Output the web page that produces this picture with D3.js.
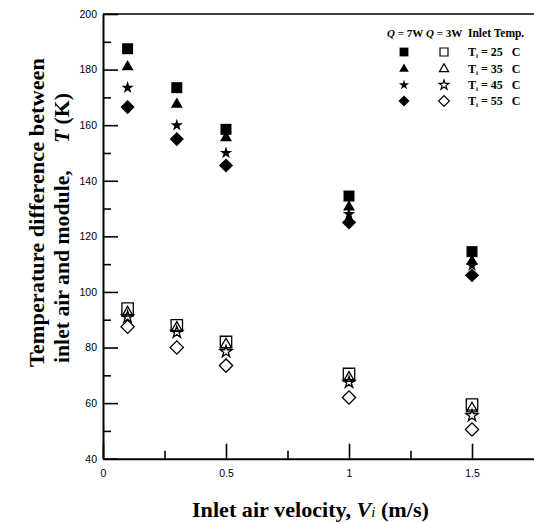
<!DOCTYPE html>
<html>
<head>
<meta charset="utf-8">
<script src="https://cdn.jsdelivr.net/npm/d3@7"></script>
<style>
  body { margin: 0; background: #fff; }
  svg { display: block; }
  .tick text { font-family: "Liberation Sans", Arial, sans-serif; font-size: 10.5px; fill: #000; }
  .ttl { font-family: "Liberation Serif", "Times New Roman", serif; font-weight: bold; fill: #000; }
</style>
</head>
<body>
<svg id="chart" width="534" height="522"></svg>
<script>
// data
const velocity = [0.1, 0.3, 0.5, 1.0, 1.5];
const inletTemps = ["25", "35", "45", "55"];
// Q = 7W (filled markers)
const q7_t25 = [187.5, 173.5, 158.5, 134.5, 114.5];
const q7_t35 = [181, 167.5, 155.5, 130.5, 111];
const q7_t45 = [173.5, 160, 150, 128, 109.5];
const q7_t55 = [166.5, 155, 145.5, 125, 106];
// Q = 3W (hollow markers)
const q3_t25 = [94, 88, 82, 70.5, 59.5];
const q3_t35 = [92.5, 87, 81, 69, 58];
const q3_t45 = [91, 85.5, 78.5, 67.5, 55.5];
const q3_t55 = [87.5, 80, 73.5, 62, 50.5];
// ticks
const xMajor = [0, 0.5, 1, 1.5];
const xMinor = [0.25, 0.75, 1.25];
const yMajor = [40, 60, 80, 100, 120, 140, 160, 180, 200];
const yMinor = [50, 70, 90, 110, 130, 150, 170, 190];

const svg = d3.select("#chart");
const mLeft = 103, mRight = 533.5, mTop = 14, mBottom = 458.7;
const nb = "\u00a0"; // keep the wide gaps of the original

const x = d3.scaleLinear().domain([0, 1.75]).range([mLeft, mRight]);
const y = d3.scaleLinear().domain([40, 200]).range([mBottom, mTop]);

// marker styles, one per inlet temperature
const shapes = [
  { type: d3.symbolSquare, size: 121, rot: 0, hsize: 130, lsize: 78, lhsize: 64 },
  { type: d3.symbolTriangle, size: 62, rot: 0, hsize: 54, lsize: 40, lhsize: 36 },
  { type: d3.symbolStar, size: 48, rot: 0, hsize: 44, lsize: 32, lhsize: 30 },
  { type: d3.symbolSquare, size: 100, rot: 45, hsize: 88, lsize: 62, lhsize: 58 }
];

const filled = [q7_t25, q7_t35, q7_t45, q7_t55];
const hollow = [q3_t25, q3_t35, q3_t45, q3_t55];

// axes
svg.append("g").attr("transform", `translate(${mLeft},0)`)
  .call(d3.axisLeft(y).tickValues(yMajor).tickSizeInner(-15).tickSizeOuter(0).tickPadding(6));
svg.append("g").attr("transform", `translate(${mLeft},0)`)
  .call(d3.axisLeft(y).tickValues(yMinor).tickSizeInner(-8).tickSizeOuter(0).tickFormat(""))
  .select(".domain").remove();

svg.append("g").attr("transform", `translate(0,${mBottom})`)
  .call(d3.axisBottom(x).tickValues(xMajor).tickSizeInner(-15).tickSizeOuter(0).tickPadding(11)
    .tickFormat(d => d === 0 ? "0" : d3.format("")(d)));
svg.append("g").attr("transform", `translate(0,${mBottom})`)
  .call(d3.axisBottom(x).tickValues(xMinor).tickSizeInner(-8).tickSizeOuter(0).tickFormat(""))
  .select(".domain").remove();

svg.selectAll(".domain").attr("stroke", "#000").attr("stroke-width", 2);
svg.selectAll(".tick line").attr("stroke", "#000").attr("stroke-width", 1.6);

// top frame line
svg.append("line")
  .attr("x1", mLeft).attr("x2", 534)
  .attr("y1", mTop).attr("y2", mTop)
  .attr("stroke", "#000").attr("stroke-width", 1.6);

// points
filled.forEach((vals, i) => {
  const s = shapes[i];
  svg.append("g").selectAll("path")
    .data(vals)
    .join("path")
    .attr("d", d3.symbol().type(s.type).size(s.size))
    .attr("transform", (d, j) => `translate(${x(velocity[j])},${y(d)}) rotate(${s.rot})`)
    .attr("fill", "#000");
});
hollow.forEach((vals, i) => {
  const s = shapes[i];
  svg.append("g").selectAll("path")
    .data(vals)
    .join("path")
    .attr("d", d3.symbol().type(s.type).size(s.hsize))
    .attr("transform", (d, j) => `translate(${x(velocity[j])},${y(d)}) rotate(${s.rot})`)
    .attr("fill", "none")
    .attr("stroke", "#000")
    .attr("stroke-width", 1.3);
});

// legend
const lg = svg.append("g").attr("class", "ttl").style("font-size", "11px");
[["7W", 387], ["3W", 426]].forEach(([w, px]) => {
  const h = lg.append("text").attr("x", px).attr("y", 37);
  h.append("tspan").attr("font-style", "italic").text("Q");
  h.append("tspan").text(" = " + w);
});
lg.append("text").attr("x", 468).attr("y", 37).style("font-size", "11.5px").text("Inlet Temp.");

const rowY = [52, 69, 85, 101];
inletTemps.forEach((t, i) => {
  const s = shapes[i];
  lg.append("path")
    .attr("d", d3.symbol().type(s.type).size(s.lsize))
    .attr("transform", `translate(404,${rowY[i]}) rotate(${s.rot})`)
    .attr("fill", "#000");
  lg.append("path")
    .attr("d", d3.symbol().type(s.type).size(s.lhsize))
    .attr("transform", `translate(444,${rowY[i]}) rotate(${s.rot})`)
    .attr("fill", "none").attr("stroke", "#000").attr("stroke-width", 1.2);
  const tx = lg.append("text").attr("x", 468).attr("y", rowY[i] + 4).style("font-size", "12px");
  tx.append("tspan").text("T");
  tx.append("tspan").attr("font-size", "7px").attr("dy", 2).text("i");
  tx.append("tspan").attr("dy", -2).text(" = " + t + nb + nb + nb + "C");
});

// axis titles
const xt = svg.append("text").attr("class", "ttl")
  .attr("x", 192).attr("y", 517)
  .attr("textLength", 237).attr("lengthAdjust", "spacingAndGlyphs")
  .style("font-size", "21px");
xt.append("tspan").text("Inlet air velocity, ");
xt.append("tspan").attr("font-style", "italic").text("V");
xt.append("tspan").attr("font-style", "italic").attr("font-weight", "normal").style("font-size", "14px").text("i");
xt.append("tspan").text(" (m/s)");

svg.append("text").attr("class", "ttl")
  .attr("transform", "translate(44,367) rotate(-90)")
  .attr("textLength", 309).attr("lengthAdjust", "spacingAndGlyphs")
  .style("font-size", "21px")
  .text("Temperature difference between");
const yt2 = svg.append("text").attr("class", "ttl")
  .attr("transform", "translate(69,363) rotate(-90)")
  .attr("textLength", 270).attr("lengthAdjust", "spacingAndGlyphs")
  .style("font-size", "21px");
yt2.append("tspan").text("inlet air and module," + nb + nb + nb + nb + " ");
yt2.append("tspan").attr("font-style", "italic").text("T");
yt2.append("tspan").text(" (K)");
</script>
</body>
</html>
